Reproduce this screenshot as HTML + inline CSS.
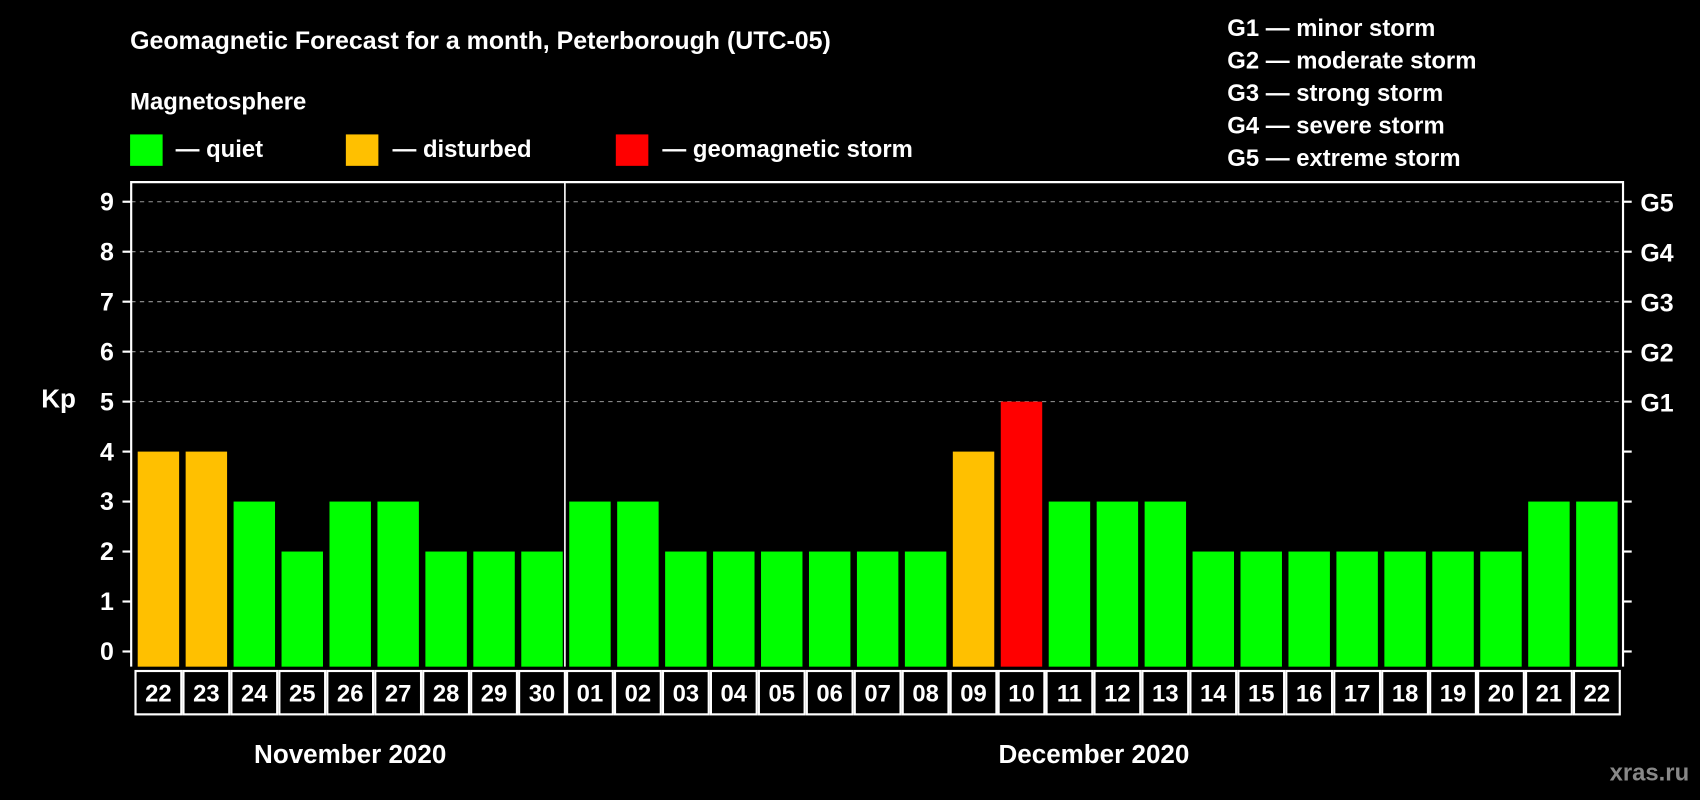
<!DOCTYPE html>
<html><head><meta charset="utf-8"><style>
html,body{margin:0;padding:0;background:#000;width:1700px;height:800px;overflow:hidden}
svg{display:block;font-family:"Liberation Sans",Arial,sans-serif;font-weight:bold}
</style></head><body>
<svg id="chart" width="1700" height="800" viewBox="0 0 1568 738" preserveAspectRatio="none" xmlns="http://www.w3.org/2000/svg">
<rect x="0" y="0" width="1568" height="738" fill="#000"/>
<text x="120" y="45" fill="#fff" font-size="23">Geomagnetic Forecast for a month, Peterborough (UTC-05)</text>
<text x="120" y="101" fill="#fff" font-size="22">Magnetosphere</text>
<g><rect x="120" y="124" width="30" height="29" fill="#00ff00"/><text x="162" y="145" fill="#fff" font-size="22">— quiet</text></g>
<g><rect x="319" y="124" width="30" height="29" fill="#ffc000"/><text x="362" y="145" fill="#fff" font-size="22">— disturbed</text></g>
<g><rect x="568" y="124" width="30" height="29" fill="#ff0000"/><text x="611" y="145" fill="#fff" font-size="22">— geomagnetic storm</text></g>
<g fill="#fff" font-size="22">
<text x="1132" y="33">G1 — minor storm</text>
<text x="1132" y="63">G2 — moderate storm</text>
<text x="1132" y="93">G3 — strong storm</text>
<text x="1132" y="123">G4 — severe storm</text>
<text x="1132" y="153">G5 — extreme storm</text>
</g>
<text x="38" y="376" fill="#fff" font-size="24">Kp</text>
<g id="plot"></g>
<text x="323" y="704" fill="#fff" font-size="24" text-anchor="middle">November 2020</text>
<text x="1009" y="704" fill="#fff" font-size="24" text-anchor="middle">December 2020</text>
<text x="1558" y="720" fill="#888" font-size="22" text-anchor="end">xras.ru</text>
</svg>
<script>
const days = ["22","23","24","25","26","27","28","29","30","01","02","03","04","05","06","07","08","09","10","11","12","13","14","15","16","17","18","19","20","21","22"];
const kp = [4,4,3,2,3,3,2,2,2,3,3,2,2,2,2,2,2,4,5,3,3,3,2,2,2,2,2,2,2,3,3];
const yTicks = [0,1,2,3,4,5,6,7,8,9];
const gLabels = ["G1","G2","G3","G4","G5"];
const monthSplit = 9;

const NS = "http://www.w3.org/2000/svg";
const plot = document.getElementById("plot");
const L = 121, R = 1497, T = 168, B = 615;
const slot = (R - L - 5) / days.length;
const y = v => 601 - v * 46.1;
const x = i => 124 + i * slot;
function mk(tag, attrs){const e=document.createElementNS(NS,tag);for(const k in attrs)e.setAttribute(k,attrs[k]);plot.appendChild(e);return e;}
const color = v => v >= 5 ? "#ff0000" : (v >= 4 ? "#ffc000" : "#00ff00");

// gridlines
yTicks.forEach(t => {
  if (t >= 5) {
    const g = mk("line",{x1:L,x2:R,y1:y(t),y2:y(t),stroke:"#999","stroke-dasharray":"4,4","stroke-width":1});
    
    
  }
});
// bars
kp.forEach((v,i) => {
  const b = mk("rect",{x:x(i)+3,y:y(v),width:slot-6,height:B-y(v),fill:color(v)});
  
  
});
// frame
const fr = mk("path",{d:`M${L},${B} L${L},${T} L${R},${T} L${R},${B}`,stroke:"#fff","stroke-width":2,fill:"none"});


const dv = mk("line",{x1:x(monthSplit)-1,x2:x(monthSplit)-1,y1:T,y2:B,stroke:"#fff","stroke-width":1.5});


// y ticks
yTicks.forEach(t => {
  mk("line",{x1:L-8,x2:L,y1:y(t),y2:y(t),stroke:"#fff","stroke-width":2});
  mk("line",{x1:R,x2:R+8,y1:y(t),y2:y(t),stroke:"#fff","stroke-width":2});
  const tl = mk("text",{x:105,y:y(t)+8,fill:"#fff","font-size":23,"text-anchor":"end"});
  tl.textContent = t;
  
  
});
gLabels.forEach((g,i) => {
  const gl = mk("text",{x:1513,y:y(i+5)+9,fill:"#fff","font-size":23});
  gl.textContent = g;
  
  
});
// day label boxes
days.forEach((d,i) => {
  const r = mk("rect",{x:x(i)+1,y:619,width:slot-2,height:40,fill:"none",stroke:"#fff","stroke-width":2});
  
  
  const t = mk("text",{x:x(i)+slot/2,y:647,fill:"#fff","font-size":22,"text-anchor":"middle"});
  t.textContent = d;
  
  
});
</script>
</body></html>
